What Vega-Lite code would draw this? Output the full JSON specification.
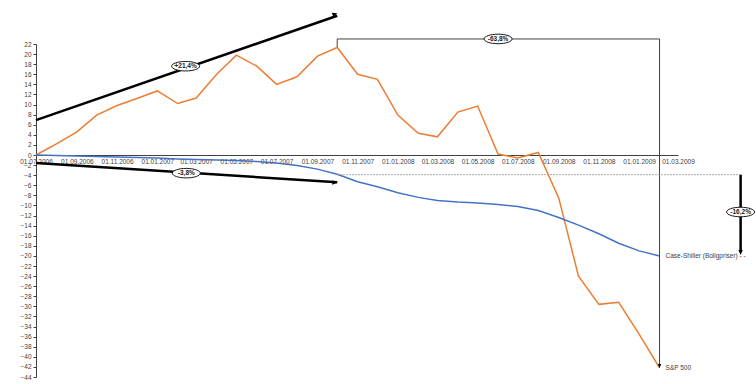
{
  "$schema": "https://vega.github.io/schema/vega-lite/v6.json",
  "width": 642,
  "height": 333,
  "autosize": "none",
  "padding": {"left": 36, "top": 44, "right": 78, "bottom": 7},
  "background": "white",
  "config": {"view": {"stroke": null}, "font": "Liberation Sans"},
  "encoding": {
    "x": {
      "field": "date", "type": "temporal", "title": null,
      "scale": {"domain": [{"year": 2006, "month": 7, "date": 1}, {"year": 2009, "month": 3, "date": 1}]},
      "axis": {"orient": "bottom", "offset": -222, "format": "%d.%m.%Y", "tickCount": {"interval": "month", "step": 2},
        "labelFontSize": 6.5, "labelColor": "#404040", "domainColor": "#404040", "ticks": false, "labelPadding": 3,
        "grid": false, "labelFlush": false, "labelOverlap": false, "labelBound": false}
    },
    "y": {
      "field": "value", "type": "quantitative", "title": null,
      "scale": {"domain": [-44, 22], "nice": false, "zero": false},
      "axis": {"values": [-44,-42,-40,-38,-36,-34,-32,-30,-28,-26,-24,-22,-20,-18,-16,-14,-12,-10,-8,-6,-4,-2,0,2,4,6,8,10,12,14,16,18,20,22],
        "labelFontSize": 6.5, "labelColor": "#404040", "domainColor": "#404040", "tickColor": "#404040", "tickSize": 3,
        "labelPadding": 2, "grid": false, "labelOverlap": false, "labelFlush": false}
    }
  },
  "layer": [
    {
      "data": {"values": [
        {"date": "2006/07/01", "series": "S&P 500", "value": 0},
        {"date": "2006/08/01", "series": "S&P 500", "value": 2.2},
        {"date": "2006/09/01", "series": "S&P 500", "value": 4.6},
        {"date": "2006/10/01", "series": "S&P 500", "value": 7.9},
        {"date": "2006/11/01", "series": "S&P 500", "value": 9.8},
        {"date": "2006/12/01", "series": "S&P 500", "value": 11.2},
        {"date": "2007/01/01", "series": "S&P 500", "value": 12.7},
        {"date": "2007/02/01", "series": "S&P 500", "value": 10.2},
        {"date": "2007/03/01", "series": "S&P 500", "value": 11.3},
        {"date": "2007/04/01", "series": "S&P 500", "value": 16.0},
        {"date": "2007/05/01", "series": "S&P 500", "value": 19.8},
        {"date": "2007/06/01", "series": "S&P 500", "value": 17.6},
        {"date": "2007/07/01", "series": "S&P 500", "value": 14.0},
        {"date": "2007/08/01", "series": "S&P 500", "value": 15.5},
        {"date": "2007/09/01", "series": "S&P 500", "value": 19.6},
        {"date": "2007/10/01", "series": "S&P 500", "value": 21.3},
        {"date": "2007/11/01", "series": "S&P 500", "value": 16.0},
        {"date": "2007/12/01", "series": "S&P 500", "value": 15.0},
        {"date": "2008/01/01", "series": "S&P 500", "value": 7.9},
        {"date": "2008/02/01", "series": "S&P 500", "value": 4.3},
        {"date": "2008/03/01", "series": "S&P 500", "value": 3.6},
        {"date": "2008/04/01", "series": "S&P 500", "value": 8.5},
        {"date": "2008/05/01", "series": "S&P 500", "value": 9.7},
        {"date": "2008/06/01", "series": "S&P 500", "value": 0.2},
        {"date": "2008/07/01", "series": "S&P 500", "value": -0.6},
        {"date": "2008/08/01", "series": "S&P 500", "value": 0.5},
        {"date": "2008/09/01", "series": "S&P 500", "value": -8.5},
        {"date": "2008/10/01", "series": "S&P 500", "value": -24.0},
        {"date": "2008/11/01", "series": "S&P 500", "value": -29.6},
        {"date": "2008/12/01", "series": "S&P 500", "value": -29.2},
        {"date": "2009/01/01", "series": "S&P 500", "value": -35.5},
        {"date": "2009/02/01", "series": "S&P 500", "value": -42.2},
        {"date": "2006/07/01", "series": "Case-Shiller", "value": 0},
        {"date": "2006/08/01", "series": "Case-Shiller", "value": -0.1},
        {"date": "2006/09/01", "series": "Case-Shiller", "value": -0.2},
        {"date": "2006/10/01", "series": "Case-Shiller", "value": -0.3},
        {"date": "2006/11/01", "series": "Case-Shiller", "value": -0.4},
        {"date": "2006/12/01", "series": "Case-Shiller", "value": -0.5},
        {"date": "2007/01/01", "series": "Case-Shiller", "value": -0.6},
        {"date": "2007/02/01", "series": "Case-Shiller", "value": -0.8},
        {"date": "2007/03/01", "series": "Case-Shiller", "value": -0.9},
        {"date": "2007/04/01", "series": "Case-Shiller", "value": -1.0},
        {"date": "2007/05/01", "series": "Case-Shiller", "value": -1.1},
        {"date": "2007/06/01", "series": "Case-Shiller", "value": -1.3},
        {"date": "2007/07/01", "series": "Case-Shiller", "value": -1.6},
        {"date": "2007/08/01", "series": "Case-Shiller", "value": -2.1},
        {"date": "2007/09/01", "series": "Case-Shiller", "value": -2.8},
        {"date": "2007/10/01", "series": "Case-Shiller", "value": -3.8},
        {"date": "2007/11/01", "series": "Case-Shiller", "value": -5.3},
        {"date": "2007/12/01", "series": "Case-Shiller", "value": -6.3},
        {"date": "2008/01/01", "series": "Case-Shiller", "value": -7.5},
        {"date": "2008/02/01", "series": "Case-Shiller", "value": -8.4},
        {"date": "2008/03/01", "series": "Case-Shiller", "value": -9.0},
        {"date": "2008/04/01", "series": "Case-Shiller", "value": -9.3},
        {"date": "2008/05/01", "series": "Case-Shiller", "value": -9.5},
        {"date": "2008/06/01", "series": "Case-Shiller", "value": -9.8},
        {"date": "2008/07/01", "series": "Case-Shiller", "value": -10.2},
        {"date": "2008/08/01", "series": "Case-Shiller", "value": -11.0},
        {"date": "2008/09/01", "series": "Case-Shiller", "value": -12.4},
        {"date": "2008/10/01", "series": "Case-Shiller", "value": -13.9},
        {"date": "2008/11/01", "series": "Case-Shiller", "value": -15.6},
        {"date": "2008/12/01", "series": "Case-Shiller", "value": -17.5},
        {"date": "2009/01/01", "series": "Case-Shiller", "value": -19.0},
        {"date": "2009/02/01", "series": "Case-Shiller", "value": -20.0}
      ]},
      "mark": {"type": "line", "strokeWidth": 1.5},
      "encoding": {
        "color": {"field": "series", "type": "nominal", "legend": null,
          "scale": {"domain": ["S&P 500", "Case-Shiller"], "range": ["#ED7D31", "#4472C4"]}}
      }
    },
    {
      "data": {"values": [
        {"date": "2006/07/01", "value": 6.9, "date2": "2007/10/01", "value2": 27.6},
        {"date": "2006/07/01", "value": -1.6, "date2": "2007/10/01", "value2": -5.4},
        {"date": "2009/06/04", "value": -3.9, "date2": "2009/06/04", "value2": -19.2}
      ]},
      "mark": {"type": "rule", "strokeWidth": 2.5, "color": "black"},
      "encoding": {"x2": {"field": "date2"}, "y2": {"field": "value2"}}
    },
    {
      "data": {"values": [
        {"date": "2007/10/01", "value": 21.4, "date2": "2007/10/01", "value2": 23.0},
        {"date": "2007/10/01", "value": 23.0, "date2": "2009/02/01", "value2": 23.0},
        {"date": "2009/02/01", "value": 23.0, "date2": "2009/02/01", "value2": -41.5}
      ]},
      "mark": {"type": "rule", "strokeWidth": 1, "color": "#404040"},
      "encoding": {"x2": {"field": "date2"}, "y2": {"field": "value2"}}
    },
    {
      "data": {"values": [
        {"date": "2007/10/01", "value": -3.9, "date2": "2009/06/04", "value2": -3.9}
      ]},
      "mark": {"type": "rule", "strokeWidth": 1, "color": "#909090", "strokeDash": [1.5, 1.5]},
      "encoding": {"x2": {"field": "date2"}, "y2": {"field": "value2"}}
    },
    {
      "data": {"values": [{"date": "2007/10/01", "value": 28.1}]},
      "mark": {"type": "point", "shape": "M0,0L-1,2.2L1,2.2Z", "size": 20, "filled": true, "color": "black", "opacity": 1, "angle": 70.4}
    },
    {
      "data": {"values": [{"date": "2007/10/01", "value": -5.5}]},
      "mark": {"type": "point", "shape": "M0,0L-1,2.2L1,2.2Z", "size": 20, "filled": true, "color": "black", "opacity": 1, "angle": 93.8}
    },
    {
      "data": {"values": [{"date": "2009/06/04", "value": -19.8}]},
      "mark": {"type": "point", "shape": "M0,0L-1,2.2L1,2.2Z", "size": 20, "filled": true, "color": "black", "opacity": 1, "angle": 180}
    },
    {
      "data": {"values": [{"date": "2009/02/01", "value": -42.2}]},
      "mark": {"type": "point", "shape": "M0,0L-1,2.2L1,2.2Z", "size": 12, "filled": true, "color": "black", "opacity": 1, "angle": 180}
    },
    {
      "data": {"values": [
        {"date": "2007/02/13", "value": 17.6, "label": "+21,4%"},
        {"date": "2007/02/14", "value": -3.6, "label": "-3,8%"},
        {"date": "2008/06/01", "value": 23.0, "label": "-63,8%"},
        {"date": "2009/06/04", "value": -11.3, "label": "-16,2%"}
      ]},
      "layer": [
        {
          "mark": {"type": "point", "shape": "M-1,0A1,0.34,0,1,1,1,0A1,0.34,0,1,1,-1,0Z", "size": 784, "filled": true,
            "fill": "white", "stroke": "black", "strokeWidth": 0.9, "opacity": 1}
        },
        {
          "mark": {"type": "text", "fontSize": 6.5, "fontWeight": "bold", "color": "#222222", "align": "center", "baseline": "middle"},
          "encoding": {"text": {"field": "label"}}
        }
      ]
    },
    {
      "data": {"values": [
        {"date": "2009/02/01", "value": -20.0, "label": "Case-Shiller (Boligpriser) - -"},
        {"date": "2009/02/01", "value": -42.2, "label": "S&P 500"}
      ]},
      "mark": {"type": "text", "fontSize": 6.5, "color": "#404040", "align": "left", "baseline": "middle", "dx": 6},
      "encoding": {"text": {"field": "label"}}
    }
  ]
}
